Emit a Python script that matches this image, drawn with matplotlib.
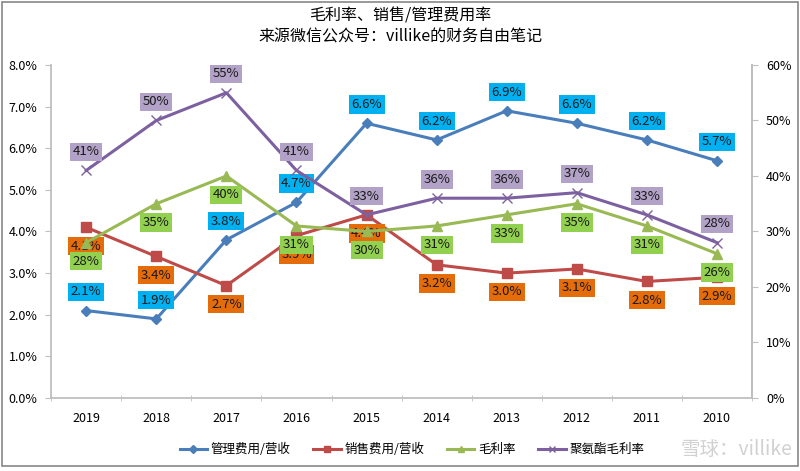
import matplotlib.pyplot as plt
from matplotlib.ticker import FuncFormatter
import matplotlib.patches as mpatches

plt.rcParams['font.family'] = ['Noto Sans CJK SC', 'DejaVu Sans']

years = ['2019', '2018', '2017', '2016', '2015', '2014', '2013', '2012', '2011', '2010']
admin = [2.1, 1.9, 3.8, 4.7, 6.6, 6.2, 6.9, 6.6, 6.2, 5.7]      # 管理费用/营收 (%)
sales = [4.1, 3.4, 2.7, 3.9, 4.4, 3.2, 3.0, 3.1, 2.8, 2.9]      # 销售费用/营收 (%)
gross = [28, 35, 40, 31, 30, 31, 33, 35, 31, 26]                # 毛利率 (%)
pu_gross = [41, 50, 55, 41, 33, 36, 36, 37, 33, 28]             # 聚氨酯毛利率 (%)

fig = plt.figure(figsize=(8, 4.71), dpi=100)
ax = fig.add_axes([0.064, 0.155, 0.876, 0.707])
ax2 = ax.twinx()

x = range(len(years))
axis_col = '#BFBFBF'

ax.plot(x, admin, color='#4A7EBB', lw=2.2, marker='D', ms=5.5, label='管理费用/营收', zorder=3)
ax.plot(x, sales, color='#BE4B48', lw=2.2, marker='s', ms=7, label='销售费用/营收', zorder=3)
ax2.plot(x, gross, color='#98B954', lw=2.2, marker='^', ms=7, label='毛利率', zorder=3)
ax2.plot(x, pu_gross, color='#7D60A0', lw=2.2, marker='x', ms=7, mew=1, label='聚氨酯毛利率', zorder=3)


def put_labels(axis, vals, fmt, dy, face):
    for i, v in enumerate(vals):
        axis.annotate(fmt(v), (i, v), xytext=(0, dy), textcoords='offset points',
                      ha='center', va='center', fontsize=9.5, color='#1a1a1a',
                      bbox=dict(boxstyle='square,pad=0.2', fc=face, ec='none'), zorder=5)


put_labels(ax, admin, lambda v: f'{v:.1f}%', 13.5, '#00B0F0')
put_labels(ax, sales, lambda v: f'{v:.1f}%', -13.5, '#E46C0A')
put_labels(ax2, gross, lambda v: f'{v:.0f}%', -13.5, '#92D050')
put_labels(ax2, pu_gross, lambda v: f'{v:.0f}%', 13.5, '#B3A2C7')

ax.set_xlim(-0.5, len(years) - 0.5)
ax.set_ylim(0, 8)
ax2.set_ylim(0, 60)
ax.set_yticks([i for i in range(9)])
ax.yaxis.set_major_formatter(FuncFormatter(lambda v, p: f'{v:.1f}%'))
ax2.set_yticks([i * 10 for i in range(7)])
ax2.yaxis.set_major_formatter(FuncFormatter(lambda v, p: f'{v:.0f}%'))

ax.set_xticks(list(x))
ax.set_xticklabels(years)
ax.set_xticks([i - 0.5 for i in range(len(years) + 1)], minor=True)
ax.tick_params(axis='x', which='major', length=0, pad=10, labelsize=9)
ax.tick_params(axis='x', which='minor', length=4, color=axis_col, direction='inout')
ax.tick_params(axis='y', length=4, color=axis_col, labelsize=9, pad=6)
ax2.tick_params(axis='y', length=4, color=axis_col, labelsize=9, pad=6)

for a in (ax, ax2):
    a.spines['top'].set_visible(False)
    for s in ('left', 'right', 'bottom'):
        a.spines[s].set_color(axis_col)
        a.spines[s].set_linewidth(1.3)
ax2.spines['left'].set_visible(False)
ax2.spines['bottom'].set_visible(False)

fig.suptitle('毛利率、销售/管理费用率\n来源微信公众号：villike的财务自由笔记',
             y=0.985, fontsize=11.5, linespacing=1.35)

h1, l1 = ax.get_legend_handles_labels()
h2, l2 = ax2.get_legend_handles_labels()
fig.legend(h1 + h2, l1 + l2, loc='center', bbox_to_anchor=(0.515, 0.045), ncol=4,
           frameon=False, fontsize=9, handlelength=2.2, handletextpad=0.3,
           columnspacing=1.8, markerscale=0.7)

fig.text(0.99, 0.045, '雪球：villike', fontsize=14, color='#cccccc', alpha=0.9,
         ha='right', va='center')

fig.patches.append(mpatches.Rectangle((0.003, 0.01), 0.994, 0.985, transform=fig.transFigure,
                                      fill=False, ec='#888888', lw=1.2))

fig.savefig('out.png', dpi=100)
